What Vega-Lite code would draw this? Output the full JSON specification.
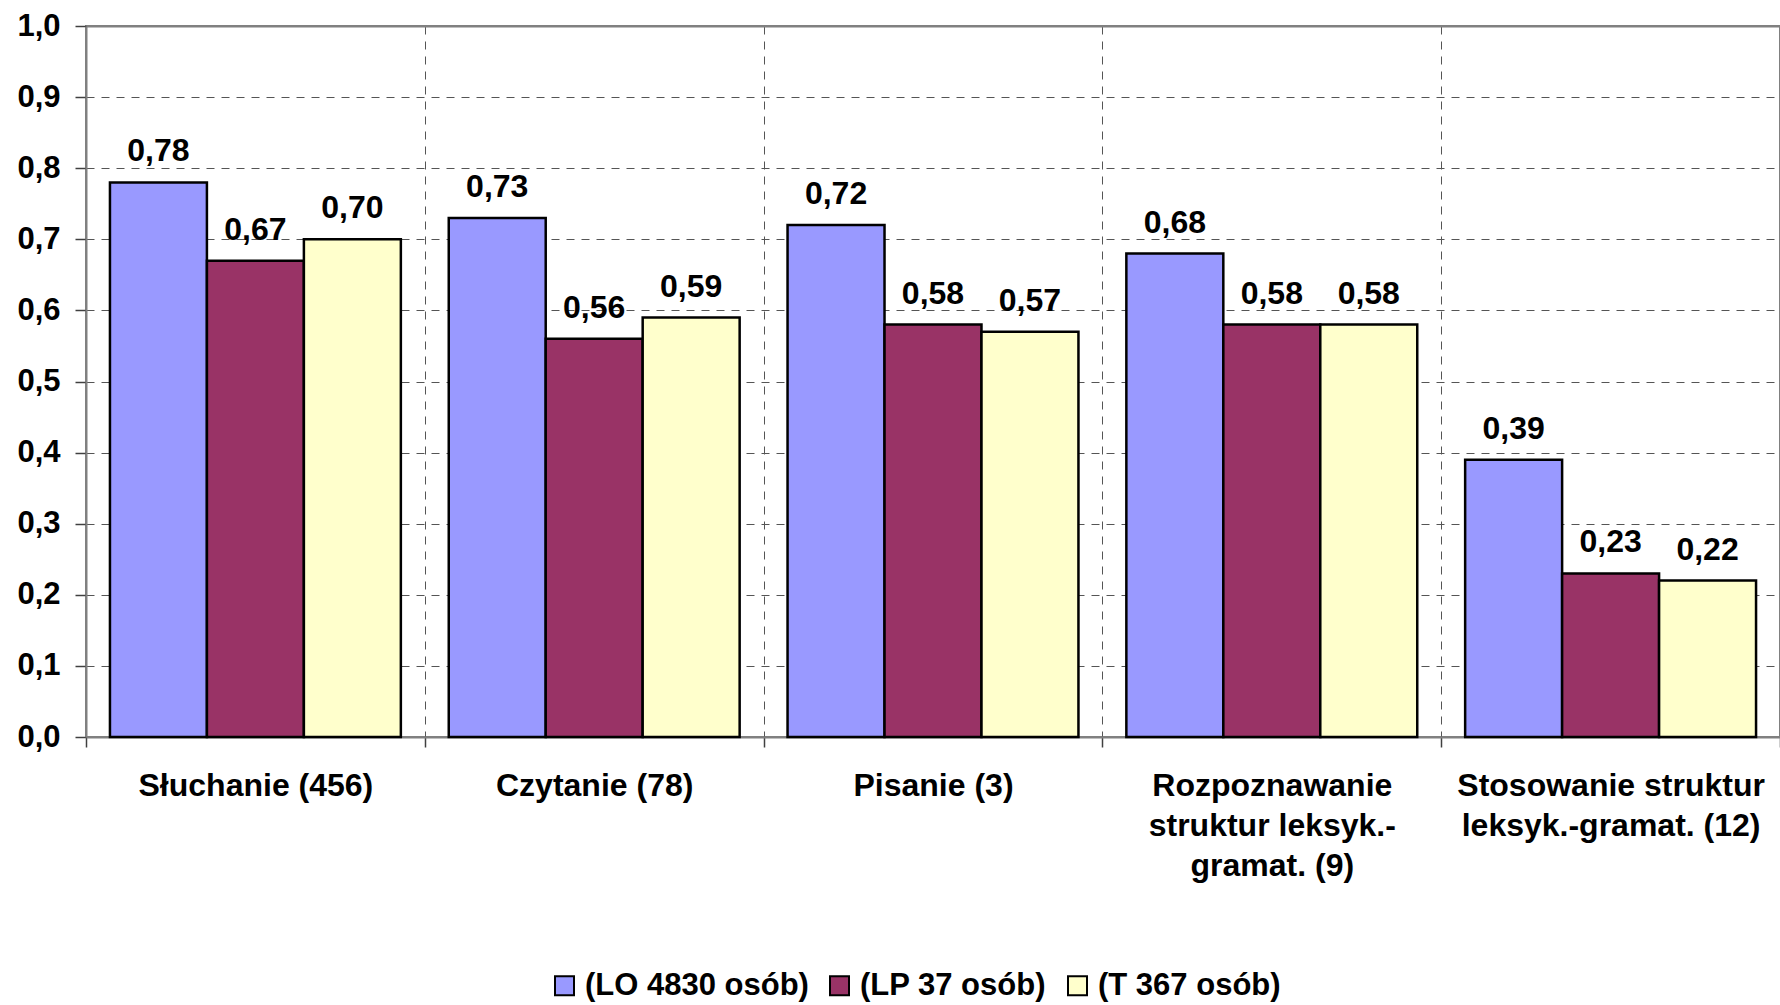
{
  "$schema": "https://vega.github.io/schema/vega-lite/v6.json",
  "width": 1694,
  "height": 711,
  "autosize": {"type": "none"},
  "padding": {"left": 86, "top": 26, "right": 0, "bottom": 268},
  "background": "white",
  "config": {
    "locale": {"number": {"decimal": ",", "thousands": " ", "grouping": [3], "currency": ["", " zł"]}},
    "font": "Liberation Sans",
    "view": {"stroke": "#808080", "strokeWidth": 2}
  },
  "data": {
    "values": [
      {"kategoria": "Słuchanie (456)", "grupa": "(LO 4830 osób)", "wynik": 0.78},
      {"kategoria": "Słuchanie (456)", "grupa": "(LP 37 osób)", "wynik": 0.67},
      {"kategoria": "Słuchanie (456)", "grupa": "(T 367 osób)", "wynik": 0.70},
      {"kategoria": "Czytanie (78)", "grupa": "(LO 4830 osób)", "wynik": 0.73},
      {"kategoria": "Czytanie (78)", "grupa": "(LP 37 osób)", "wynik": 0.56},
      {"kategoria": "Czytanie (78)", "grupa": "(T 367 osób)", "wynik": 0.59},
      {"kategoria": "Pisanie (3)", "grupa": "(LO 4830 osób)", "wynik": 0.72},
      {"kategoria": "Pisanie (3)", "grupa": "(LP 37 osób)", "wynik": 0.58},
      {"kategoria": "Pisanie (3)", "grupa": "(T 367 osób)", "wynik": 0.57},
      {"kategoria": "Rozpoznawanie struktur leksyk.-gramat. (9)", "grupa": "(LO 4830 osób)", "wynik": 0.68},
      {"kategoria": "Rozpoznawanie struktur leksyk.-gramat. (9)", "grupa": "(LP 37 osób)", "wynik": 0.58},
      {"kategoria": "Rozpoznawanie struktur leksyk.-gramat. (9)", "grupa": "(T 367 osób)", "wynik": 0.58},
      {"kategoria": "Stosowanie struktur leksyk.-gramat. (12)", "grupa": "(LO 4830 osób)", "wynik": 0.39},
      {"kategoria": "Stosowanie struktur leksyk.-gramat. (12)", "grupa": "(LP 37 osób)", "wynik": 0.23},
      {"kategoria": "Stosowanie struktur leksyk.-gramat. (12)", "grupa": "(T 367 osób)", "wynik": 0.22}
    ]
  },
  "encoding": {
    "x": {
      "field": "kategoria",
      "type": "nominal",
      "sort": ["Słuchanie (456)", "Czytanie (78)", "Pisanie (3)", "Rozpoznawanie struktur leksyk.-gramat. (9)", "Stosowanie struktur leksyk.-gramat. (12)"],
      "scale": {"paddingInner": 0, "paddingOuter": 0},
      "axis": {
        "title": null,
        "orient": "bottom",
        "tickBand": "extent",
        "grid": true,
        "gridDash": [8, 7],
        "gridColor": "#555555",
        "gridWidth": 1,
        "tickSize": 10,
        "tickColor": "#404040",
        "tickWidth": 1.5,
        "domainColor": "#808080",
        "domainWidth": 2,
        "labelAngle": 0,
        "labelFontSize": 32,
        "labelFontWeight": "bold",
        "labelColor": "black",
        "labelPadding": 23,
        "labelLineHeight": 40,
        "labelLimit": 500,
        "labelOverlap": false,
        "labelExpr": "datum.label == 'Rozpoznawanie struktur leksyk.-gramat. (9)' ? ['Rozpoznawanie', 'struktur leksyk.-', 'gramat. (9)'] : datum.label == 'Stosowanie struktur leksyk.-gramat. (12)' ? ['Stosowanie struktur', 'leksyk.-gramat. (12)'] : datum.label"
      }
    },
    "xOffset": {
      "field": "grupa",
      "type": "nominal",
      "sort": ["(LO 4830 osób)", "(LP 37 osób)", "(T 367 osób)"],
      "scale": {"paddingInner": 0, "paddingOuter": 0.247}
    },
    "y": {
      "field": "wynik",
      "type": "quantitative",
      "scale": {"domain": [0, 1], "nice": false},
      "axis": {
        "title": null,
        "values": [0, 0.1, 0.2, 0.3, 0.4, 0.5, 0.6, 0.7, 0.8, 0.9, 1.0],
        "format": ".1f",
        "grid": true,
        "gridDash": {"condition": {"test": "datum.value >= 1", "value": []}, "value": [8, 7]},
        "gridColor": {"condition": {"test": "datum.value >= 1", "value": "#808080"}, "value": "#555555"},
        "gridWidth": {"condition": {"test": "datum.value >= 1", "value": 2}, "value": 1},
        "tickSize": 11,
        "tickColor": "#404040",
        "tickWidth": 1.5,
        "domainColor": "#808080",
        "domainWidth": 2,
        "labelFontSize": 31,
        "labelFontWeight": "bold",
        "labelColor": "black",
        "labelPadding": 15
      }
    }
  },
  "layer": [
    {
      "mark": {"type": "bar", "stroke": "black", "strokeWidth": 2.5},
      "encoding": {
        "color": {
          "field": "grupa",
          "type": "nominal",
          "sort": ["(LO 4830 osób)", "(LP 37 osób)", "(T 367 osób)"],
          "scale": {"domain": ["(LO 4830 osób)", "(LP 37 osób)", "(T 367 osób)"], "range": ["#9999FF", "#993366", "#FFFFCC"]},
          "legend": {
            "title": null,
            "orient": "none",
            "direction": "horizontal",
            "legendX": 463,
            "legendY": 944,
            "symbolType": "square",
            "symbolSize": 361,
            "symbolStrokeColor": "black",
            "symbolStrokeWidth": 2,
            "symbolOpacity": 1,
            "labelFontSize": 31,
            "labelFontWeight": "bold",
            "labelColor": "black",
            "labelOffset": 5,
            "columnPadding": 15,
            "labelLimit": 400
          }
        }
      }
    },
    {
      "mark": {"type": "text", "fontSize": 32, "fontWeight": "bold", "color": "black", "baseline": "alphabetic", "align": "center", "dy": -21},
      "encoding": {
        "text": {"field": "wynik", "type": "quantitative", "format": ".2f"}
      }
    }
  ]
}
